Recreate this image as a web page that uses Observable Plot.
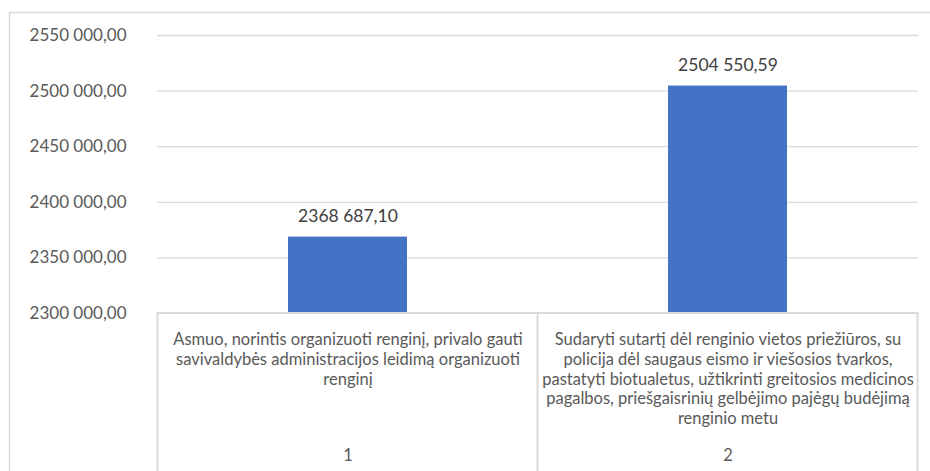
<!DOCTYPE html>
<html>
<head>
<meta charset="utf-8">
<script src="https://cdn.jsdelivr.net/npm/d3@7"></script>
<script src="https://cdn.jsdelivr.net/npm/@observablehq/plot@0.6"></script>
<style>
  html, body { margin: 0; padding: 0; background: #fff; }
  #chart { width: 930px; height: 471px; overflow: hidden; }
  svg { display: block; }
</style>
</head>
<body>
<div id="chart"></div>
<script>
const categories = ["1", "2"];
const categoryTexts = [
  "Asmuo, norintis organizuoti renginį, privalo gauti\nsavivaldybės administracijos leidimą organizuoti\nrenginį",
  "Sudaryti sutartį dėl renginio vietos priežiūros, su\npolicija dėl saugaus eismo ir viešosios tvarkos,\npastatyti biotualetus, užtikrinti greitosios medicinos\npagalbos, priešgaisrinių gelbėjimo pajėgų budėjimą\nrenginio metu"
];
const values = [2368687.10, 2504550.59];
const yTicks = [2300000, 2350000, 2400000, 2450000, 2500000, 2550000];

const data = categories.map((c, i) => ({cat: c, text: categoryTexts[i], value: values[i]}));

const locale = d3.formatLocale({decimal: ",", thousands: " ", grouping: [3, 4], currency: ["", ""]});
const fmt = locale.format(",.2f");

const FONT = "Lato, 'Open Sans', sans-serif";

const plot = Plot.plot({
  width: 930,
  height: 471,
  marginTop: 35,
  marginBottom: 158,
  marginLeft: 157,
  marginRight: 12,
  style: {fontFamily: FONT, fontSize: "17px", color: "#595959", background: "#fff"},
  x: {domain: categories, paddingInner: 0.687, paddingOuter: 0.3435, axis: null},
  y: {domain: [2300000, 2550000], axis: null},
  marks: [
    Plot.ruleY(yTicks.slice(1), {stroke: "#d9d9d9", strokeWidth: 1.3}),
    Plot.barY(data, {x: "cat", y1: 2300000, y2: "value", fill: "#4472C4"}),
    Plot.text(data, {x: "cat", y: "value", text: d => fmt(d.value), dy: -21, fill: "#404040", fontSize: 17.5}),
    Plot.axisY({ticks: yTicks, tickSize: 0, tickPadding: 31, tickFormat: fmt, label: null, fill: "#595959", fontSize: 17}),
    Plot.text(data, {x: "cat", text: "text", frameAnchor: "bottom", lineAnchor: "top", dy: 18, lineHeight: 1.19, fill: "#595959", fontSize: 16.5}),
    Plot.text(data, {x: "cat", text: "cat", frameAnchor: "bottom", lineAnchor: "middle", dy: 142, fill: "#595959", fontSize: 16.5})
  ]
});

document.getElementById("chart").appendChild(plot);

// Category table lines drawn from the x band scale
const xs = plot.scale("x");
const ys = plot.scale("y");
const svg = d3.select(plot);
const step = xs.step;
const base = ys.apply(2300000);
const bounds = [];
categories.forEach((c, i) => {
  const center = xs.apply(c) + xs.bandwidth / 2;
  if (i === 0) bounds.push(center - step / 2);
  bounds.push(center + step / 2);
});
const g = svg.append("g").attr("stroke", "#d9d9d9").attr("stroke-width", 2).attr("fill", "none");
g.append("line").attr("x1", bounds[0] - 1).attr("x2", bounds[bounds.length - 1] + 1).attr("y1", base).attr("y2", base);
bounds.forEach(b => g.append("line").attr("x1", b).attr("x2", b).attr("y1", base).attr("y2", 471));
// chart border
const border = svg.insert("rect", ":first-child").attr("x", 9.5).attr("y", 12.5).attr("width", 940).attr("height", 470)
  .attr("fill", "none").attr("stroke", "#d9d9d9").attr("stroke-width", 1.5);
</script>
</body>
</html>
